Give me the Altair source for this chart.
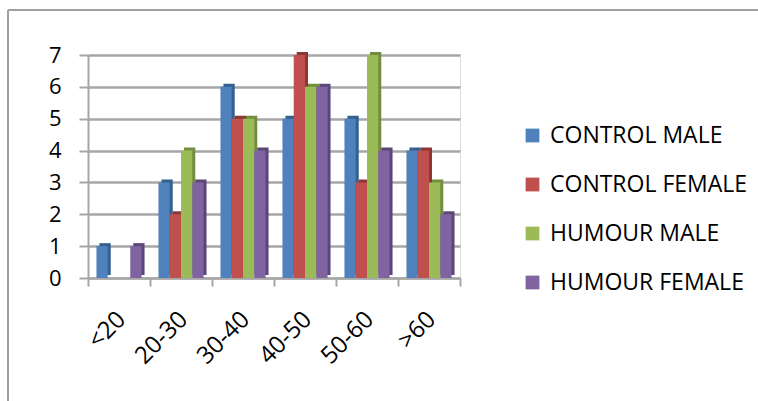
import altair as alt
import pandas as pd

groups = ["<20", "20-30", "30-40", "40-50", "50-60", ">60"]
series = ["CONTROL MALE", "CONTROL FEMALE", "HUMOUR MALE", "HUMOUR FEMALE"]
control_male = [1, 3, 6, 5, 5, 4]
control_female = [0, 2, 5, 7, 3, 4]
humour_male = [0, 4, 5, 6, 7, 3]
humour_female = [1, 3, 4, 6, 4, 2]
colors = ["#4F81BD", "#C0504D", "#9BBB59", "#8064A2"]
side_colors = ["#34608F", "#8E3633", "#728E3D", "#5B467A"]

rows = []
for s, vals in zip(series, [control_male, control_female, humour_male, humour_female]):
    for g, v in zip(groups, vals):
        rows.append({"group": g, "series": s, "side": s + " side", "value": v})
df = pd.DataFrame(rows)
sides = [s + " side" for s in series]

FONT = "Open Sans"
W, H = 372, 223
STEP = W / len(groups)

x_enc = alt.X("group:N", sort=groups, title=None,
              scale=alt.Scale(paddingInner=0, paddingOuter=0),
              axis=alt.Axis(labelAngle=-45, labelFontSize=24, labelFont=FONT,
                            labelColor="black", labelPadding=21, labelOffset=-6,
                            domain=True, domainColor="#a6a6a6", domainWidth=2,
                            ticks=True, tickColor="#a6a6a6", tickWidth=2, tickSize=8,
                            tickBand="extent", grid=False))
y_enc = alt.Y("value:Q", title=None,
              scale=alt.Scale(domain=[0, 7], nice=False),
              axis=alt.Axis(values=list(range(8)), labelFontSize=22, labelFont=FONT,
                            labelColor="black", labelPadding=18,
                            domain=True, domainColor="#a6a6a6", domainWidth=2,
                            tickColor="#a6a6a6", tickWidth=2, tickSize=9,
                            grid=True, gridColor="#a6a6a6", gridWidth=2.5))

shadow = alt.Chart(df).mark_bar(yOffset=-3).encode(
    x=x_enc,
    xOffset=alt.XOffset("side:N", sort=sides,
                        scale=alt.Scale(paddingOuter=0.75, range=[3, STEP + 3])),
    y=y_enc,
    color=alt.Color("side:N", scale=alt.Scale(domain=sides, range=side_colors),
                    legend=None),
)

bars = alt.Chart(df).mark_bar().encode(
    x=x_enc,
    xOffset=alt.XOffset("series:N", sort=series,
                        scale=alt.Scale(paddingOuter=0.75, range=[0, STEP])),
    y=y_enc,
    color=alt.Color("series:N", sort=series,
                    scale=alt.Scale(domain=series, range=colors),
                    legend=alt.Legend(title=None, orient="none", legendX=433, legendY=69,
                                      symbolType="square", symbolSize=190,
                                      symbolStrokeWidth=0, labelFontSize=23,
                                      labelFont=FONT, labelColor="black", labelLimit=0,
                                      rowPadding=25, labelOffset=6)),
)

border_left = alt.Chart(pd.DataFrame({"a": [0]})).mark_rule(
    color="#a0a0a0", strokeWidth=2, clip=False
).encode(x=alt.value(-80), y=alt.value(-45), y2=alt.value(400))

border_top = alt.Chart(pd.DataFrame({"a": [0]})).mark_rule(
    color="#a0a0a0", strokeWidth=2, clip=False
).encode(x=alt.value(-80), x2=alt.value(700), y=alt.value(-45))

chart = alt.layer(shadow, bars, border_left, border_top).resolve_scale(
    color="independent", xOffset="independent"
).properties(
    width=W, height=H,
    autosize=alt.AutoSizeParams(type="none"),
    padding={"left": 88, "top": 55, "right": 298, "bottom": 123},
).configure_view(stroke=None).configure(background="white")

chart.save("out.html", embed_options={"renderer": "svg", "actions": False})
